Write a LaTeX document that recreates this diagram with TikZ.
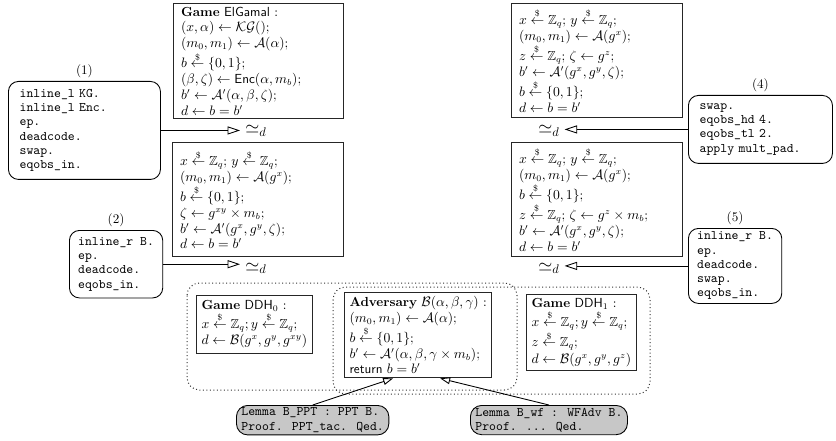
\documentclass[tikz,border=0pt]{standalone}
\usepackage{amsmath,amssymb}
\usetikzlibrary{arrows.meta,calc}
\newcommand{\rndto}{\stackrel{\$}{\leftarrow}}
\begin{document}
\begin{tikzpicture}[x=0.8pt,y=-0.8pt,
  every node/.style={inner sep=0pt},
  game/.style={draw=black!85, line width=0.8pt, anchor=north west, align=left, inner xsep=6pt, inner ysep=2pt, font=\fontsize{10.5}{12.6}\selectfont},
  tac/.style={draw=black, line width=0.7pt, rounded corners=8pt, anchor=north west, align=left, inner xsep=7pt, inner ysep=2pt, font=\fontsize{10.5}{11.4}\selectfont\ttfamily},
  lem/.style={tac, fill=black!22, inner xsep=4pt, rounded corners=9pt},
  lbl/.style={font=\fontsize{10.5}{12}\selectfont, anchor=south},
  sim/.style={font=\fontsize{14}{16}\selectfont, anchor=base west, inner xsep=4pt},
  tri/.style={-{Triangle[open,length=10pt,width=6.5pt]}, line width=0.7pt},
  tris/.style={-{Triangle[open,length=8pt,width=5.5pt]}, line width=0.7pt},
  dotbox/.style={draw=black!80, dotted, line width=0.8pt, rounded corners=10pt},
]
\useasboundingbox (0,0) rectangle (836,441);

% game boxes
\node[game, text width=124pt, minimum height=92pt] (g1) at (173,3) {%
\textbf{Game} \textsf{ElGamal} :\\
$(x,\alpha)\leftarrow\mathcal{KG}()$;\\
$(m_0,m_1)\leftarrow\mathcal{A}(\alpha)$;\\
$b\rndto\{0,1\}$;\\
$(\beta,\zeta)\leftarrow\textsf{Enc}(\alpha,m_b)$;\\
$b'\leftarrow\mathcal{A}'(\alpha,\beta,\zeta)$;\\
$d\leftarrow b=b'$};

\node[game, text width=124.8pt, minimum height=91.2pt] (g2) at (172,142) {%
$x\rndto\mathbb{Z}_q$; $y\rndto\mathbb{Z}_q$;\\
$(m_0,m_1)\leftarrow\mathcal{A}(g^x)$;\\
$b\rndto\{0,1\}$;\\
$\zeta\leftarrow g^{xy}\times m_b$;\\
$b'\leftarrow\mathcal{A}'(g^x,g^y,\zeta)$;\\
$d\leftarrow b=b'$};

\node[game, text width=124.8pt, minimum height=91.2pt] (g3) at (511,3) {%
$x\rndto\mathbb{Z}_q$; $y\rndto\mathbb{Z}_q$;\\
$(m_0,m_1)\leftarrow\mathcal{A}(g^x)$;\\
$z\rndto\mathbb{Z}_q$; $\zeta\leftarrow g^z$;\\
$b'\leftarrow\mathcal{A}'(g^x,g^y,\zeta)$;\\
$b\rndto\{0,1\}$;\\
$d\leftarrow b=b'$};

\node[game, text width=124.8pt, minimum height=91.2pt] (g4) at (511,142) {%
$x\rndto\mathbb{Z}_q$; $y\rndto\mathbb{Z}_q$;\\
$(m_0,m_1)\leftarrow\mathcal{A}(g^x)$;\\
$b\rndto\{0,1\}$;\\
$z\rndto\mathbb{Z}_q$; $\zeta\leftarrow g^z\times m_b$;\\
$b'\leftarrow\mathcal{A}'(g^x,g^y,\zeta)$;\\
$d\leftarrow b=b'$};

% tactic boxes
\node[tac, inner xsep=9pt, text width=103.6pt, minimum height=78.4pt] (t1) at (8,81) {%
inline\_l KG.\\inline\_l Enc.\\ep.\\deadcode.\\swap.\\eqobs\_in.};
\node[lbl] (n1) at ($(t1.north)+(0,-3)$) {(1)};

\node[tac, minimum height=54pt] (t2) at (69,230) {%
inline\_r B.\\ep.\\deadcode.\\eqobs\_in.};
\node[lbl] (n2) at ($(t2.north)+(0,-3)$) {(2)};

\node[tac, inner xsep=9pt, text width=97.2pt, minimum height=54.4pt] (t4) at (688,95) {%
swap.\\eqobs\_hd 4.\\eqobs\_tl 2.\\apply mult\_pad.};
\node[lbl] (n4) at ($(t4.north)+(0,-3)$) {(4)};

\node[tac, minimum height=60pt] (t5) at (688,228) {%
inline\_r B.\\ep.\\deadcode.\\swap.\\eqobs\_in.};
\node[lbl] (n5) at ($(t5.north)+(0,-3)$) {(5)};

% equivalence symbols
\node[sim] (s1) at (240,134) {$\simeq_d$};
\node[sim] (s2) at (240,271) {$\simeq_d$};
\node[sim] (s3) at (533,134) {$\simeq_d$};
\node[sim] (s4) at (533,271) {$\simeq_d$};

\draw[tri] (t1.east) -- (t1.east -| s1.west);
\draw[tri] (t2.east) -- (t2.east -| s2.west);
\draw[tri] (t4.west) -- (t4.west -| s3.east);
\draw[tri] (t5.west) -- (t5.west -| s4.east);

% bottom groups
\draw[dotbox] (187,283) rectangle (517,390);
\draw[dotbox] (333,287) rectangle (650,394);

\node[game, inner xsep=4pt, inner ysep=4pt, font=\fontsize{10.5}{13}\selectfont] (d0) at (196,295) {%
\textbf{Game} \textsf{DDH}$_0$ :\\
$x\rndto\mathbb{Z}_q;y\rndto\mathbb{Z}_q$;\\
$d\leftarrow\mathcal{B}(g^x,g^y,g^{xy})$};

\node[game, inner xsep=4pt, inner ysep=3pt] (adv) at (344,292) {%
\textbf{Adversary} $\mathcal{B}(\alpha,\beta,\gamma)$ :\\
$(m_0,m_1)\leftarrow\mathcal{A}(\alpha)$;\\
$b\rndto\{0,1\}$;\\
$b'\leftarrow\mathcal{A}'(\alpha,\beta,\gamma\times m_b)$;\\
\textsf{return} $b=b'$};

\node[game, inner xsep=4pt, inner ysep=3pt, font=\fontsize{10.5}{13}\selectfont] (d1) at (526,294) {%
\textbf{Game} \textsf{DDH}$_1$ :\\
$x\rndto\mathbb{Z}_q;y\rndto\mathbb{Z}_q$;\\
$z\rndto\mathbb{Z}_q$;\\
$d\leftarrow\mathcal{B}(g^x,g^y,g^z)$};

% lemmas
\node[lem] (l1) at (236,405) {Lemma B\_PPT : PPT B.\\Proof. PPT\_tac. Qed.};
\node[lem] (l2) at (470,405) {Lemma B\_wf : WFAdv B.\\Proof. ... Qed.};

\draw[tris] (l1.north) -- ($(adv.south)+(-25,0)$);
\draw[tris] (l2.north) -- ($(adv.south)+(22,0)$);
\end{tikzpicture}
\end{document}
